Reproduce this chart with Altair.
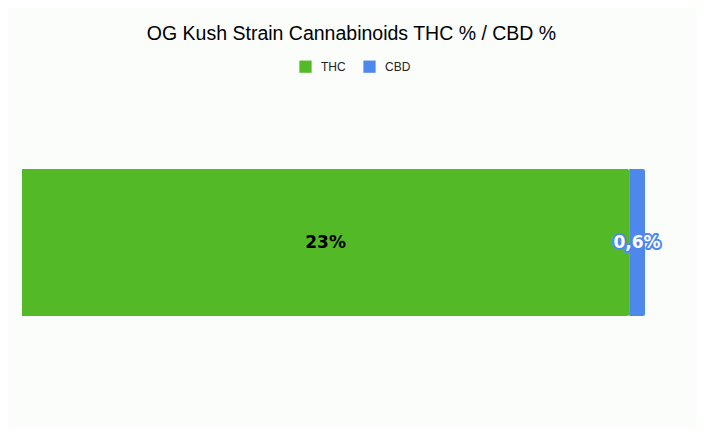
import altair as alt
import pandas as pd

categories = ["THC", "CBD"]
values = [23, 0.6]
labels = ["23%", "0,6%"]
colors = ["#53b926", "#4f88ed"]
strain = "OG Kush"
order = [0, 1]

df = pd.DataFrame({"cat": categories, "val": values, "label": labels,
                   "strain": [strain] * 2, "ord": order})

base = alt.Chart(df).transform_stack(
    stack="val", groupby=["strain"], as_=["x0", "x1"],
    sort=[alt.SortField("ord", order="ascending")]
).transform_calculate(mid="(datum.x0 + datum.x1) / 2")

xs = alt.Scale(domain=[0, 23.6], nice=False, zero=True)
ys = alt.Scale(paddingInner=0, paddingOuter=0)

bars = base.mark_bar(cornerRadiusTopRight=2, cornerRadiusBottomRight=2).encode(
    x=alt.X("x0:Q", scale=xs, axis=None),
    x2="x1:Q",
    y=alt.Y("strain:N", scale=ys, axis=None),
    color=alt.Color("cat:N", scale=alt.Scale(domain=categories, range=colors),
                    sort=categories,
                    legend=alt.Legend(title=None, orient="none", direction="horizontal",
                                      legendX=277, legendY=-109, symbolType="square",
                                      symbolSize=150, symbolStrokeWidth=0,
                                      labelFont="Liberation Sans", labelFontSize=12,
                                      labelColor="#222222", labelOffset=9,
                                      columnPadding=17)),
)

fs = 17
text_thc = base.transform_filter(alt.datum.cat == "THC").mark_text(
    font="DejaVu Sans", fontWeight="bold", fontSize=fs, color="black"
).encode(x=alt.X("mid:Q", scale=xs), y=alt.Y("strain:N", scale=ys), text="label:N")

text_cbd_stroke = base.transform_filter(alt.datum.cat == "CBD").mark_text(
    font="DejaVu Sans", fontWeight="bold", fontSize=fs, fill="#4f88ed",
    stroke="#4f88ed", strokeWidth=4, strokeJoin="round"
).encode(x=alt.X("mid:Q", scale=xs), y=alt.Y("strain:N", scale=ys), text="label:N")

text_cbd = base.transform_filter(alt.datum.cat == "CBD").mark_text(
    font="DejaVu Sans", fontWeight="bold", fontSize=fs, color="white"
).encode(x=alt.X("mid:Q", scale=xs), y=alt.Y("strain:N", scale=ys), text="label:N")

chart = alt.layer(bars, text_thc, text_cbd_stroke, text_cbd).properties(
    width=623, height=147,
    title=alt.TitleParams("OG Kush Strain Cannabinoids THC % / CBD %",
                          font="Liberation Sans", fontSize=19.5, fontWeight="normal",
                          color="#000000", anchor="middle", dx=18, offset=16),
    autosize=alt.AutoSizeParams(type="none"),
    padding={"left": 14, "top": 161, "right": 52, "bottom": 112},
    background="#fbfdfb",
).configure_view(stroke=None)

chart.save("out.html", embed_options={"renderer": "svg", "actions": False})
